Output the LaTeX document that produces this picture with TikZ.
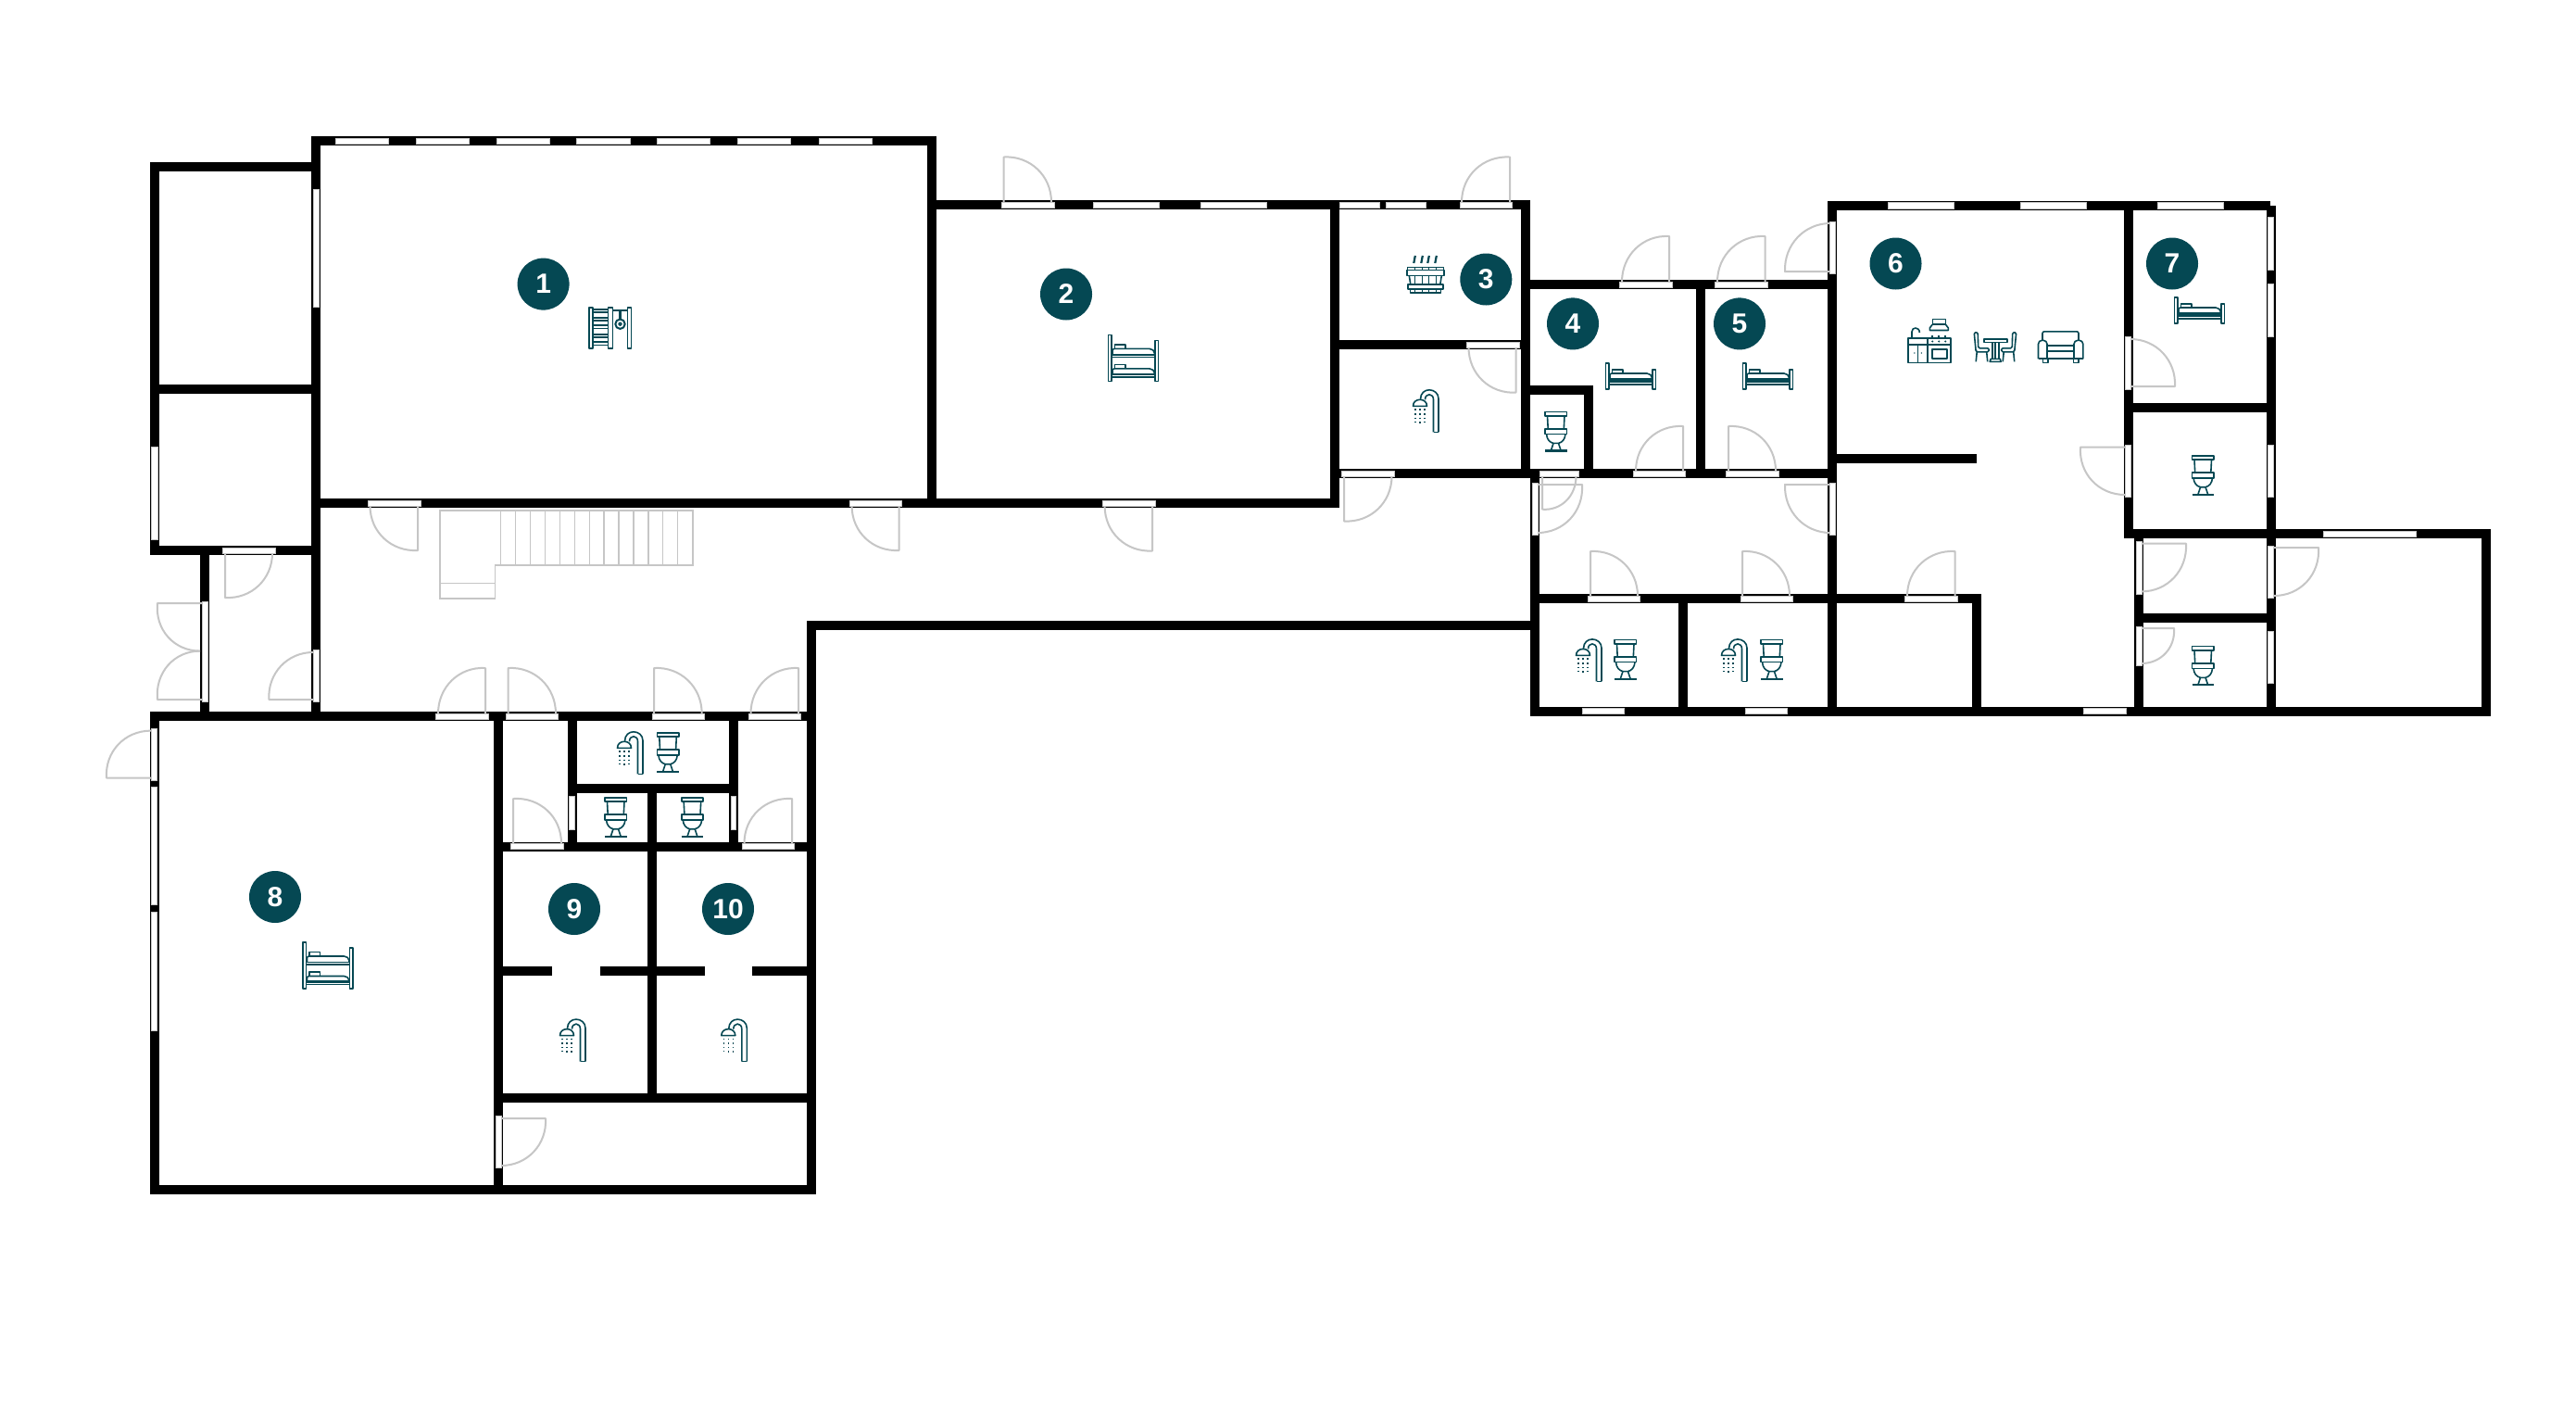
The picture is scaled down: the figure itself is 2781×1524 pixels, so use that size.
\documentclass[tikz,border=0pt]{standalone}
\usepackage{fontspec}
\setmainfont{Liberation Sans}
\usetikzlibrary{calc}
\definecolor{tealc}{HTML}{054853}
\definecolor{doorc}{HTML}{C6C6C6}
\tikzset{
  wall/.style={draw=black,line width=10pt,line cap=rect,line join=miter},
  wallstub/.style={draw=black,line width=10pt,line cap=butt},
  winbox/.style={draw=doorc,line width=0.5pt,fill=white},
  doorline/.style={draw=doorc,line width=2pt,line join=round},
  stairline/.style={draw=doorc,line width=1.8pt},
  icon/.style={draw=tealc,line width=1.6pt,line join=round,fill=none},
  thick icon/.style={draw=tealc,line width=2.2pt},
  badge/.style={circle,fill=tealc,text=white,minimum size=56pt,inner sep=0pt,font=\fontsize{30}{30}\selectfont\bfseries}
}
% door: hinge, leaf tip, far jamb
\newcommand{\dr}[6]{\draw[doorline] (#1,#2)--(#3,#4) .. controls ($(#3,#4)+0.5523*(#5,#6)-0.5523*(#1,#2)$) and ($(#5,#6)+0.5523*(#3,#4)-0.5523*(#1,#2)$) .. (#5,#6);}
\newcommand{\win}[4]{\draw[winbox] (#1,#2) rectangle (#3,#4);}
\newcommand{\toileticon}[2]{\begin{scope}[shift={(#1,#2)}]
  \draw[icon] (0,0) rectangle (23.5,4.5);
  \draw[icon] (2.5,4.5)--(3.2,18.5) (21,4.5)--(20.3,18.5);
  \draw[icon] (0,18.5) rectangle (23.5,24);
  \draw[icon] (1.5,24) .. controls (2,30) and (5,33) .. (9,34) -- (14.5,34) .. controls (18.5,33) and (21.5,30) .. (22,24);
  \draw[icon] (9,34)--(6.5,41.5) (14.5,34)--(17,41.5);
  \draw[thick icon] (0,42)--(23.5,42);
\end{scope}}
\newcommand{\showericon}[2]{\begin{scope}[shift={(#1,#2)}]
  \draw[icon] (28,46)--(28,10) .. controls (28,4) and (23,0.5) .. (18,0.5) .. controls (13,0.5) and (8.5,4) .. (8.5,10.5);
  \draw[icon] (22.5,46)--(22.5,11) .. controls (22.5,7.5) and (20.5,5.5) .. (18,5.5) .. controls (15.5,5.5) and (13.5,7.5) .. (13.5,11);
  \draw[icon] (22.5,46)--(28,46);
  \draw[icon] (0.5,18) .. controls (0.5,13.5) and (4,11) .. (8,11) .. controls (12,11) and (15.5,13.5) .. (15.5,18) -- cycle;
  \foreach \dx/\ya/\yb in {3/21/35,8/21/39,13/21/36}{
    \draw[draw=tealc,line width=1.6pt,dash pattern=on 1.6pt off 3pt] (\dx,\ya)--(\dx,\yb);}
\end{scope}}
\newcommand{\bedicon}[2]{\begin{scope}[shift={(#1,#2)}]
  \draw[icon] (0.5,0) rectangle (4,28);
  \draw[icon] (51,7) rectangle (54.5,28);
  \draw[icon] (7.5,11) -- (7.5,6.7) -- (19,6.7) -- (19,11);
  \draw[icon,rounded corners=2pt] (5,17)--(5,11)--(47,11)--(50.5,14)--(50.5,17);
  \draw[thick icon] (4,17.5)--(51,17.5);
  \draw[icon] (4,20)--(51,20);
  \draw[thick icon] (4,23)--(51,23);
\end{scope}}
\newcommand{\bunkicon}[2]{\begin{scope}[shift={(#1,#2)}]
  \draw[icon] (0.5,0) rectangle (4,50);
  \draw[icon] (51,6) rectangle (54.5,50);
  \foreach \dy in {0,21.5}{
    \draw[icon] (7.5,\dy+15) -- (7.5,\dy+10.5) -- (19,\dy+10.5) -- (19,\dy+15);
    \draw[icon,rounded corners=2pt] (5,\dy+21)--(5,\dy+15)--(47,\dy+15)--(50.5,\dy+18)--(50.5,\dy+21);
    \draw[icon] (4,\dy+21.5)--(51,\dy+21.5);
    \draw[icon] (4,\dy+24)--(51,\dy+24);
  }
  \draw[icon] (4,42)--(51,42);
\end{scope}}
\newcommand{\gymicon}[2]{\begin{scope}[shift={(#1,#2)}]
  \draw[icon] (0.8,0) rectangle (5,44);
  \draw[icon] (21.5,0) rectangle (26.5,44);
  \draw[icon] (42.5,0) rectangle (46.5,44);
  \foreach \ry in {2,11,19.5,29,37.5}{\draw[thick icon] (5,\ry)--(21.5,\ry);\draw[icon] (5,\ry+3.2)--(21.5,\ry+3.2);}
  \draw[thick icon] (26.5,3)--(42.5,3);
  \draw[thick icon] (34.5,4)--(34.5,12);
  \draw[icon,line width=2pt] (34.5,18) circle (5.2);
  \draw[icon] (34.5,18) circle (1.6);
\end{scope}}
\newcommand{\saunaicon}[2]{\begin{scope}[shift={(#1,#2)}]
  \foreach \sx in {8,16,23,31}{\draw[thick icon] (\sx,8)--(\sx+1.5,0);}
  \draw[icon] (1,12.5) rectangle (40,15.5);
  \draw[icon] (0.5,15.5) rectangle (40.5,21.5);
  \draw[icon] (3,21.5)--(4.5,31) (38,21.5)--(36.5,31);
  \foreach \sx in {9,17,24,32}{\draw[icon] (\sx,21.5)--(\sx,31) (\sx,12.5)--(\sx,15.5) (\sx,36)--(\sx,40);}
  \draw[icon] (1.5,31) rectangle (39.5,36);
  \draw[icon] (4,36) rectangle (37,40);
\end{scope}}
\newcommand{\kitchenicon}[2]{\begin{scope}[shift={(#1,#2)}]
  \draw[icon] (27,0.5) rectangle (41,6);
  \draw[icon] (27,6)--(24,10)--(24,12.5)--(44,12.5)--(44,10)--(41,6);
  \draw[icon] (0.5,21) rectangle (46.5,47.5);
  \draw[icon] (0.5,28)--(46.5,28);
  \draw[thick icon] (21.5,21)--(21.5,47.5);
  \draw[icon] (11.3,28)--(11.3,47.5);
  \draw[icon] (26.5,33) rectangle (42.5,43);
  \draw[icon] (4.7,21)--(4.7,14) .. controls (4.7,8.5) and (13,8.5) .. (13,15);
  \draw[thick icon] (27,21)--(27,18) (34,21)--(34,18) (41,21)--(41,18);
  \fill[tealc] (27,24.5) circle (1.1) (34,24.5) circle (1.1) (41,24.5) circle (1.1);
  \fill[tealc] (7.5,37) circle (.8) (15,37) circle (.8);
\end{scope}}
\newcommand{\tableicon}[2]{\begin{scope}[shift={(#1,#2)}]
  \draw[icon,rounded corners=1.5pt] (0.5,0.5)--(4.5,0.5)--(5,17.5)--(16.5,17.5)--(16.5,21.5)--(2.5,21.5)--cycle;
  \draw[icon,rounded corners=1.5pt] (46,0.5)--(42,0.5)--(41.5,17.5)--(30,17.5)--(30,21.5)--(44,21.5)--cycle;
  \draw[icon] (3.5,21.5)--(2.5,32) (14,21.5)--(15,32) (43,21.5)--(44,32) (32.5,21.5)--(31.5,32);
  \draw[icon] (11,7.7) rectangle (36,11);
  \draw[icon] (20,11)--(20,29) (27,11)--(27,29);
  \draw[thick icon] (23.5,11)--(23.5,29);
  \draw[icon] (17.5,32)--(18.5,29)--(28.5,29)--(29.5,32)--cycle;
\end{scope}}
\newcommand{\sofaicon}[2]{\begin{scope}[shift={(#1,#2)}]
  \draw[icon,rounded corners=2pt] (5,10)--(5,0.5)--(44,0.5)--(44,10);
  \draw[icon,rounded corners=4pt] (0.5,30)--(0.5,10)--(10,10)--(10,30);
  \draw[icon,rounded corners=4pt] (39,30)--(39,10)--(48.8,10)--(48.8,30);
  \draw[thick icon] (0.5,30)--(48.8,30);
  \draw[icon] (10,15.5)--(39,15.5);
  \draw[thick icon] (10,21.5)--(39,21.5);
  \draw[icon] (5.5,30) rectangle (11,34) (38.5,30) rectangle (44,34);
\end{scope}}
\begin{document}
\begin{tikzpicture}[x=1pt,y=-1pt]
\useasboundingbox (0,0) rectangle (2781,1524);
\fill[white] (0,0) rectangle (2781,1524);
% walls
\draw[wall] (341,152) rectangle (1005.5,543);
\draw[wall] (341,180)--(167,180)--(167,594)--(341,594);
\draw[wall] (167,420)--(341,420);
\draw[wall] (341,543)--(341,773);
\draw[wall] (221,594)--(221,773);
\draw[wall] (167,773)--(875.5,773);
\draw[wall] (167,773)--(167,1284)--(875.5,1284);
\draw[wall] (1656.5,675)--(875.5,675)--(875.5,1284);
\draw[wall] (538,773)--(538,1284);
\draw[wall] (618,773)--(618,913.5);
\draw[wall] (792,773)--(792,913.5);
\draw[wall] (618,851)--(792,851);
\draw[wall] (538,913.5)--(875.5,913.5);
\draw[wall] (704,851)--(704,1185);
\draw[wall] (538,1185)--(875.5,1185);
\draw[wallstub] (538,1048)--(596,1048) (648,1048)--(761,1048) (812,1048)--(875,1048);
\draw[wall] (1005.5,221)--(1647,221)--(1647,511);
\draw[wall] (1005.5,543)--(1440.5,543)--(1440.5,221);
\draw[wall] (1440.5,372)--(1647,372);
\draw[wall] (1440.5,511)--(1978,511);
\draw[wall] (1647,307)--(1978,307);
\draw[wall] (1656.5,511)--(1656.5,768)--(2684,768);
\draw[wall] (1647,421)--(1714.5,421)--(1714.5,511);
\draw[wall] (1836,307)--(1836,511);
\draw[wall] (1978,221.5)--(1978,768);
\draw[wall] (1656.5,646)--(2134,646)--(2134,768);
\draw[wall] (1816.5,646)--(1816.5,768);
\draw[wallstub] (1973,221.5)--(2451,221.5);
\draw[wallstub] (2451.5,222)--(2451.5,768);
\draw[wall] (2297.5,221.5)--(2297.5,575.5)--(2684,575.5)--(2684,768);
\draw[wall] (2297.5,440)--(2451.5,440);
\draw[wall] (2309,575.5)--(2309,768);
\draw[wall] (2309,667)--(2451.5,667);
\draw[wallstub] (1978,495)--(2134,495);
% stairs
\draw[stairline] (474.7,551)--(748,551)--(748,610)--(534.4,610)--(534.4,646)--(474.7,646)--cycle;
\draw[stairline] (474.7,629.4)--(534.4,629.4);
\foreach \tx in {540.7,556.8,572.8,588.3,604.4,620.5,636.6,652,668,684,700,715.8,731.8}{\draw[stairline,line width=1.2pt] (\tx,551)--(\tx,610);}
% door leaves and swings
\dr{243}{594}{243}{645}{294}{597}
\dr{451}{543}{451}{594}{399.5}{546}
\dr{970.6}{543}{970.6}{594}{919.6}{546}
\dr{221}{651}{170}{651}{216}{702.6}
\dr{221}{755}{170}{755}{216}{702.6}
\dr{341}{755}{290.4}{755}{338}{704}
\dr{524}{773}{524}{721}{473}{770}
\dr{548.7}{773}{548.7}{721}{600}{770}
\dr{706}{773}{706}{721}{757.7}{770}
\dr{862}{773}{862}{721}{810.5}{770}
\dr{1083.5}{221}{1083.5}{169.5}{1135}{218}
\dr{1630}{221}{1630}{169.5}{1578}{218}
\dr{1636.5}{372}{1636.5}{423.6}{1585.5}{375}
\dr{1451}{511}{1451}{562.5}{1502.5}{514}
\dr{1244}{543}{1244}{594.5}{1192.6}{546}
\dr{1802}{307}{1802}{255}{1751}{304}
\dr{1905.6}{307}{1905.6}{255}{1854}{304}
\dr{1978}{293}{1927}{293}{1976}{241}
\dr{1817}{511}{1817}{460}{1766}{508}
\dr{1866}{511}{1866}{460}{1917}{508}
\dr{1665}{511}{1665}{549.7}{1701.5}{514}
\dr{1656.5}{523}{1708}{523}{1660}{575}
\dr{1978}{523}{1927}{523}{1976}{575}
\dr{1717}{646}{1717}{595}{1768}{643}
\dr{1881}{646}{1881}{595}{1932}{643}
\dr{2297.5}{417}{2348}{417}{2300}{366}
\dr{2297.5}{482.6}{2246}{482.6}{2294}{534}
\dr{2110.6}{646}{2110.6}{595}{2059}{643}
\dr{2309}{586.6}{2360}{586.6}{2312}{638.4}
\dr{2451.5}{591}{2503}{591}{2455}{643}
\dr{2309}{678}{2347}{678}{2312}{716}
\dr{166.5}{839.6}{115}{839.6}{163}{788.6}
\dr{554}{913.5}{554}{862}{606}{910}
\dr{855}{913.5}{855}{862}{803.5}{910}
\dr{538}{1207}{589}{1207}{541}{1258}
% door thresholds
\win{240.5}{591}{297}{597}
\win{397}{540}{454}{546}
\win{917}{540}{973.5}{546}
\win{218}{649}{224.4}{757.5}
\win{338}{701.7}{344}{757.5}
\win{470.6}{770}{527}{776}
\win{546.4}{770}{602.7}{776}
\win{704}{770}{760.5}{776}
\win{808}{770}{864.5}{776}
\win{1081}{218}{1138}{224.5}
\win{1576}{218}{1632.6}{224.5}
\win{1583}{369}{1640}{375}
\win{1448}{508}{1505}{514}
\win{1190}{540}{1247}{546}
\win{1748}{304}{1805}{310}
\win{1851.4}{304}{1908}{310}
\win{1975.5}{239}{1981}{295}
\win{1763}{508}{1819.5}{514}
\win{1863.5}{508}{1920}{514}
\win{1662.6}{508}{1704.7}{514}
\win{1654}{521}{1660}{577}
\win{1975.5}{521}{1981}{577}
\win{1714}{643}{1770.4}{649}
\win{1879}{643}{1935}{649}
\win{2294.6}{363.6}{2300.6}{420}
\win{2294.6}{480}{2300.6}{536}
\win{2056}{643}{2113}{649}
\win{2306.5}{584.6}{2312}{640.8}
\win{2448.5}{589}{2454.5}{645}
\win{2306.5}{676}{2312}{718}
\win{163}{786}{169}{842.5}
\win{551}{910.5}{608}{916.5}
\win{801}{910.5}{857}{916.5}
\win{535}{1204.5}{541.4}{1260.4}
% windows
\win{362.7}{149}{419.6}{155}
\win{449.4}{149}{506.2}{155}
\win{536.7}{149}{593}{155}
\win{622}{149}{680}{155}
\win{709.5}{149}{766}{155}
\win{796}{149}{853}{155}
\win{884}{149}{941}{155}
\win{338}{204}{344}{331.6}
\win{163}{482.5}{170}{582}
\win{1180}{218.4}{1251}{224.6}
\win{1296.5}{218.4}{1367}{224.6}
\win{1446}{218.4}{1489}{224.6}
\win{1496}{218.4}{1539}{224.6}
\win{1708}{764.4}{1753}{770.6}
\win{1884.5}{764.4}{1929}{770.6}
\win{2038}{218.5}{2109}{225}
\win{2181.7}{218.5}{2252}{225}
\win{2329}{218.5}{2400}{225}
\win{2448.5}{234}{2454.5}{291}
\win{2448.5}{306.6}{2454.5}{363}
\win{2448.5}{480}{2454.5}{536}
\win{2448.5}{681}{2454.5}{737.7}
\win{2508}{572.8}{2608}{579}
\win{2249}{764.5}{2295}{770.5}
\win{163}{849}{169}{976}
\win{163}{984.5}{169}{1112}
\win{614.6}{859}{620}{895.5}
\win{789}{859}{794.6}{895.5}
% icons
\gymicon{635}{331.7}
\bunkicon{1196}{361.4}
\bunkicon{326.5}{1017}
\saunaicon{1518.3}{276}
\showericon{1525}{420.3}
\showericon{666}{789.3}
\showericon{1701}{689.4}
\showericon{1858}{689.4}
\showericon{604}{1099.6}
\showericon{778.3}{1099.6}
\toileticon{709.3}{790.7}
\toileticon{653}{860.7}
\toileticon{735.7}{860.7}
\toileticon{1668}{444.4}
\toileticon{1743}{690.6}
\toileticon{1901}{690.6}
\toileticon{2366.5}{491.7}
\toileticon{2366.5}{697.3}
\bedicon{2347}{321}
\bedicon{1733}{392}
\bedicon{1881}{392}
\kitchenicon{2059.3}{344}
\tableicon{2130.7}{358.3}
\sofaicon{2200}{357.3}
% room numbers
\node[badge] (n1) at (586.6,306.6) {1};
\node[badge] (n2) at (1151,317.5) {2};
\node[badge] (n3) at (1604.3,301.5) {3};
\node[badge] (n4) at (1698,349.4) {4};
\node[badge] (n5) at (1878,349.4) {5};
\node[badge] (n6) at (2046.5,284.5) {6};
\node[badge] (n7) at (2345,284.5) {7};
\node[badge] (n8) at (297,968) {8};
\node[badge] (n9) at (620,981) {9};
\node[badge] (n10) at (786,981) {10};
\end{tikzpicture}
\end{document}
